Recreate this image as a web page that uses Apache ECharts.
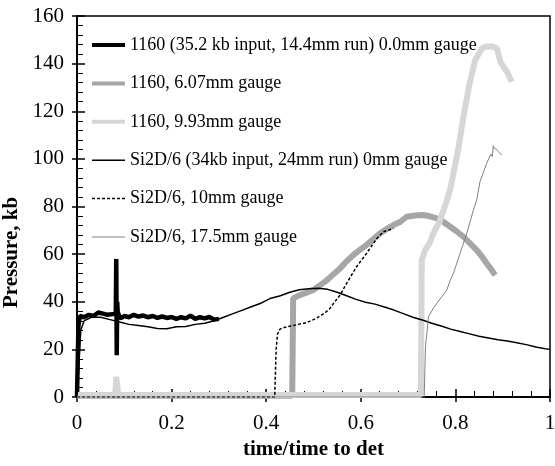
<!DOCTYPE html>
<html>
<head>
<meta charset="utf-8">
<script src="https://cdn.jsdelivr.net/npm/echarts@6/dist/echarts.min.js"></script>
<style>
html,body{margin:0;padding:0;background:#fff;}
#chart{width:555px;height:466px;}
</style>
</head>
<body>
<div id="chart"></div>
<script>
// ---- Data ----
var seriesNames = [
  "1160 (35.2 kb input, 14.4mm run) 0.0mm gauge",
  "1160, 6.07mm gauge",
  "1160, 9.93mm gauge",
  "Si2D/6 (34kb input, 24mm run) 0mm gauge",
  "Si2D/6, 10mm gauge",
  "Si2D/6, 17.5mm gauge"
];
var xTicks = [0, 0.2, 0.4, 0.6, 0.8, 1];
var yTicks = [0, 20, 40, 60, 80, 100, 120, 140, 160];

// 1160, 0.0mm gauge
var t1160_0 = [0, 0.003, 0.006, 0.015, 0.025, 0.035, 0.045, 0.055, 0.065, 0.075, 0.082, 0.083, 0.084, 0.085, 0.086, 0.088, 0.092, 0.1, 0.11, 0.12, 0.13, 0.14, 0.15, 0.16, 0.17, 0.18, 0.19, 0.2, 0.21, 0.22, 0.23, 0.24, 0.25, 0.26, 0.27, 0.28, 0.29, 0.3];
var p1160_0 = [0, 30, 34, 33.5, 34.5, 34, 35.5, 35, 34.5, 34.8, 35, 58, 17.5, 40, 36, 34.5, 33, 34, 33.5, 34.5, 33.8, 34.2, 33.5, 34, 33.2, 33.8, 33.2, 33.6, 32.8, 33.5, 33, 34.2, 32.8, 33.5, 33, 33.6, 32.5, 32.8];

// 1160, 6.07mm gauge
var t1160_607 = [0, 0.455, 0.457, 0.46, 0.471, 0.485, 0.5, 0.514, 0.528, 0.542, 0.556, 0.57, 0.584, 0.598, 0.612, 0.626, 0.641, 0.655, 0.669, 0.683, 0.697, 0.715, 0.732, 0.746, 0.761, 0.775, 0.789, 0.803, 0.817, 0.831, 0.845, 0.856, 0.866, 0.875, 0.884];
var p1160_607 = [0.5, 0.5, 41.4, 41.8, 42.8, 43.8, 45, 47, 49, 51.5, 54, 57, 59.6, 61.8, 63.8, 66.2, 68.8, 70.6, 72.2, 73.5, 75.7, 76.2, 76.4, 75.9, 75, 73.5, 71.5, 69.5, 67.3, 64.5, 61.7, 59, 56.2, 53.8, 51.2];

// 1160, 9.93mm gauge
var t1160_993 = [0, 0.081, 0.083, 0.085, 0.087, 0.2, 0.3, 0.4, 0.5, 0.6, 0.7, 0.727, 0.729, 0.736, 0.746, 0.753, 0.767, 0.782, 0.79, 0.797, 0.806, 0.817, 0.83, 0.842, 0.856, 0.866, 0.878, 0.888, 0.895, 0.902, 0.909, 0.914, 0.919];
var p1160_993 = [0.8, 0.8, 8.5, 8.5, 0.8, 0.8, 0.8, 0.8, 0.8, 0.8, 0.8, 0.8, 57.5, 61.7, 64.8, 68.5, 74, 82.5, 88, 95, 104, 117.7, 131.7, 141.5, 146.4, 147.2, 147.2, 146.4, 140.8, 138.5, 136.6, 134.5, 132.4];

// Si2D/6, 0mm gauge
var tSi_0 = [0, 0.008, 0.015, 0.03, 0.05, 0.07, 0.09, 0.11, 0.13, 0.15, 0.17, 0.19, 0.21, 0.23, 0.25, 0.27, 0.29, 0.31, 0.33, 0.35, 0.37, 0.39, 0.41, 0.43, 0.45, 0.47, 0.49, 0.51, 0.53, 0.55, 0.57, 0.59, 0.61, 0.63, 0.65, 0.67, 0.69, 0.71, 0.73, 0.75, 0.77, 0.79, 0.81, 0.83, 0.85, 0.87, 0.89, 0.91, 0.93, 0.95, 0.97, 0.99, 1.0];
var pSi_0 = [0, 28, 32, 33.5, 33.5, 32.5, 31.5, 30.5, 30, 29.5, 28.8, 28.7, 29.5, 29.6, 30.5, 31, 32, 33.5, 35, 36.5, 38, 39.5, 41.5, 42.5, 44, 45, 45.5, 45.7, 45.2, 44, 42.5, 41, 39.8, 39, 37.8, 36.5, 35, 33.5, 32.3, 31, 29.8, 28.5, 27.5, 26.5, 25.5, 24.8, 24, 23.5, 22.8, 22, 21, 20.3, 20];

// Si2D/6, 10mm gauge
var tSi_10 = [0, 0.418, 0.421, 0.424, 0.429, 0.44, 0.457, 0.47, 0.485, 0.5, 0.514, 0.525, 0.535, 0.545, 0.556, 0.57, 0.591, 0.612, 0.634, 0.648, 0.66, 0.669];
var pSi_10 = [0, 0, 20, 26.5, 28.5, 29.3, 30, 30.6, 31.2, 32.5, 34, 35.5, 37.2, 40, 42.8, 47.7, 54.7, 60.3, 66.6, 69.4, 70.2, 70.8];

// Si2D/6, 17.5mm gauge
var tSi_175 = [0, 0.734, 0.736, 0.737, 0.739, 0.743, 0.753, 0.771, 0.782, 0.789, 0.796, 0.81, 0.824, 0.838, 0.845, 0.852, 0.866, 0.875, 0.878, 0.88, 0.882, 0.884, 0.887, 0.891, 0.894, 0.898];
var pSi_175 = [0, 0, 16, 22, 25.3, 33.7, 37.2, 42.1, 45, 49, 52, 60.4, 68.7, 78.5, 82.7, 90.4, 98.1, 102, 101, 105.5, 104.5, 103.7, 104, 103, 102.5, 101.6];

// ---- Build ----
function pairs(t, p) { var out = []; for (var i = 0; i < t.length; i++) out.push([t[i], p[i]]); return out; }
var FONT = "'Liberation Serif', 'Times New Roman', serif";

var styles = [
  {color: '#000000', width: 4.5, type: 'solid'},
  {color: '#a6a6a6', width: 6, type: 'solid'},
  {color: '#d6d6d6', width: 6, type: 'solid'},
  {color: '#000000', width: 1.5, type: 'solid'},
  {color: '#000000', width: 1.5, type: [3, 2]},
  {color: '#808080', width: 1, type: 'solid'}
];
var dataSets = [
  pairs(t1160_0, p1160_0),
  pairs(t1160_607, p1160_607),
  pairs(t1160_993, p1160_993),
  pairs(tSi_0, pSi_0),
  pairs(tSi_10, pSi_10),
  pairs(tSi_175, pSi_175)
];

var series = seriesNames.map(function (n, i) {
  return {
    name: n, type: 'line', data: dataSets[i], xAxisIndex: 0, yAxisIndex: 0,
    showSymbol: false, symbol: 'none', animation: false, z: 2 + i,
    lineStyle: {color: styles[i].color, width: styles[i].width, type: styles[i].type},
    itemStyle: {color: styles[i].color}
  };
});

var legendData = seriesNames.map(function (n, i) {
  return {name: n, lineStyle: {width: Math.min(styles[i].width, 4)}, itemStyle: {opacity: 0}};
});

var chart = echarts.init(document.getElementById('chart'), null, {renderer: 'canvas'});
chart.setOption({
  backgroundColor: '#ffffff',
  animation: false,
  grid: {left: 77, right: 5, top: 16, bottom: 69, show: true, borderColor: '#000', borderWidth: 1.5,
         backgroundColor: 'transparent', containLabel: false, outerBoundsMode: 'none'},
  legend: {
    data: legendData, orient: 'vertical', left: 85, top: 31,
    itemWidth: 33, itemHeight: 14, itemGap: 20.4,
    itemStyle: {opacity: 0},
    textStyle: {fontFamily: FONT, fontSize: 18, color: '#000', lineHeight: 18},
    selectedMode: false
  },
  xAxis: [{
    type: 'value', min: xTicks[0], max: xTicks[xTicks.length - 1], interval: 0.2, position: 'bottom',
    axisLine: {show: true, onZero: false, lineStyle: {color: '#000', width: 2}},
    axisTick: {show: true, inside: true, length: 8, lineStyle: {color: '#000', width: 1.5}},
    minorTick: {show: true, splitNumber: 5, length: 6, lineStyle: {color: '#000', width: 1}},
    splitLine: {show: false},
    axisLabel: {fontFamily: FONT, fontSize: 21, color: '#000', margin: 16},
    name: 'time/time to det', nameLocation: 'middle', nameGap: 42,
    nameTextStyle: {fontFamily: FONT, fontSize: 21, fontWeight: 'bold', color: '#000'}
  }, {
    type: 'value', min: xTicks[0], max: xTicks[xTicks.length - 1], interval: 0.2, position: 'bottom', offset: 0,
    axisLine: {show: false}, axisLabel: {show: false}, splitLine: {show: false},
    axisTick: {show: true, inside: false, length: 5, lineStyle: {color: '#000', width: 1.5}}
  }],
  yAxis: [{
    type: 'value', min: yTicks[0], max: yTicks[yTicks.length - 1], interval: 20, position: 'left',
    axisLine: {show: true, onZero: false, lineStyle: {color: '#000', width: 2}},
    axisTick: {show: true, inside: true, length: 8, lineStyle: {color: '#000', width: 1.5}},
    minorTick: {show: true, splitNumber: 5, length: 6, lineStyle: {color: '#000', width: 1}},
    splitLine: {show: false},
    axisLabel: {fontFamily: FONT, fontSize: 21, color: '#000', margin: 13},
    name: 'Pressure, kb', nameLocation: 'middle', nameGap: 44,
    nameTextStyle: {fontFamily: FONT, fontSize: 21, fontWeight: 'bold', color: '#000', padding: [0, 92, 0, 0]}
  }, {
    type: 'value', min: yTicks[0], max: yTicks[yTicks.length - 1], interval: 20, position: 'left', offset: 0,
    axisLine: {show: false}, axisLabel: {show: false}, splitLine: {show: false},
    axisTick: {show: true, inside: false, length: 5, lineStyle: {color: '#000', width: 1.5}}
  }],
  series: series
});
</script>
</body>
</html>
